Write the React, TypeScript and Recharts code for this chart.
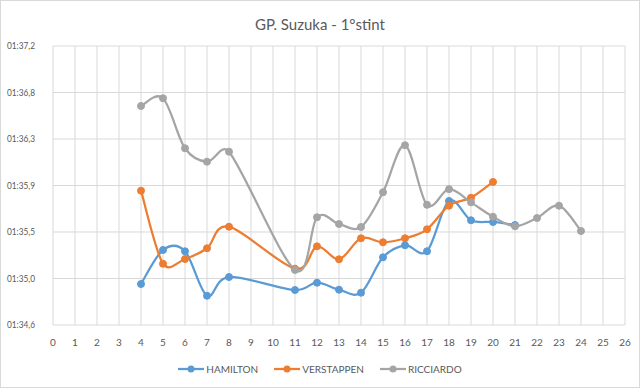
import React from "react";
import { LineChart, Line, XAxis, YAxis, CartesianGrid } from "recharts";

// Lap numbers and lap times (seconds) per driver
const hamiltonLaps = [4, 5, 6, 7, 8, 11, 12, 13, 14, 15, 16, 17, 18, 19, 20, 21];
const hamiltonTimes = [94.982, 95.299, 95.287, 94.873, 95.047, 94.926, 94.994, 94.929, 94.901, 95.231, 95.343, 95.287, 95.756, 95.576, 95.560, 95.532];

const verstappenLaps = [4, 5, 6, 7, 8, 11, 12, 13, 14, 15, 16, 17, 18, 19, 20];
const verstappenTimes = [95.852, 95.171, 95.215, 95.315, 95.516, 95.125, 95.333, 95.212, 95.408, 95.371, 95.408, 95.492, 95.712, 95.786, 95.933];

const ricciardoLaps = [4, 5, 6, 7, 8, 11, 12, 13, 14, 15, 16, 17, 18, 19, 20, 21, 22, 23, 24];
const ricciardoTimes = [96.641, 96.713, 96.247, 96.122, 96.215, 95.113, 95.604, 95.541, 95.513, 95.837, 96.275, 95.720, 95.866, 95.743, 95.609, 95.520, 95.597, 95.712, 95.476];

const xTicks = [0, 1, 2, 3, 4, 5, 6, 7, 8, 9, 10, 11, 12, 13, 14, 15, 16, 17, 18, 19, 20, 21, 22, 23, 24, 25, 26];
const yTicks = [94.6, 95.03333, 95.46667, 95.9, 96.33333, 96.76667, 97.2];

const title = "GP. Suzuka - 1°stint";
const seriesNames = ["HAMILTON", "VERSTAPPEN", "RICCIARDO"];
const colors = ["#5B9BD5", "#ED7D31", "#A5A5A5"];

const toRows = (laps: number[], times: number[]) => laps.map((lap, i) => ({ lap, time: times[i] }));

const series = [
  toRows(hamiltonLaps, hamiltonTimes),
  toRows(verstappenLaps, verstappenTimes),
  toRows(ricciardoLaps, ricciardoTimes),
];

const fmtTime = (v: number) => {
  const m = Math.floor(v / 60);
  const s = v - m * 60;
  return `${String(m).padStart(2, "0")}:${s.toFixed(1).replace(".", ",")}`;
};

// Excel-like smoothing (Bezier with distance-limited control points)
const smoothCurve = (context: any) => {
  let pts: [number, number][] = [];
  const dist = (a: [number, number], b: [number, number]) => Math.hypot(a[0] - b[0], a[1] - b[1]);
  return {
    areaStart() {},
    areaEnd() {},
    lineStart() {
      pts = [];
    },
    point(x: number, y: number) {
      pts.push([+x, +y]);
    },
    lineEnd() {
      const n = pts.length;
      if (!n) return;
      context.moveTo(pts[0][0], pts[0][1]);
      for (let i = 0; i < n - 1; i++) {
        const p0 = pts[i - 1] || pts[i];
        const p1 = pts[i];
        const p2 = pts[i + 1];
        const p3 = pts[i + 2] || pts[i + 1];
        const d02 = dist(p0, p2);
        const d12 = dist(p1, p2);
        const d13 = dist(p1, p3);
        let f = 1 / 6;
        let g = 1 / 6;
        if (d02 / 6 >= d12 / 2 && d02 > 0) f = d12 / d02 / 2;
        if (d13 / 6 >= d12 / 2 && d13 > 0) g = d12 / d13 / 2;
        context.bezierCurveTo(
          p1[0] + f * (p2[0] - p0[0]),
          p1[1] + f * (p2[1] - p0[1]),
          p2[0] - g * (p3[0] - p1[0]),
          p2[1] - g * (p3[1] - p1[1]),
          p2[0],
          p2[1]
        );
      }
    },
  };
};

const FONT = "Lato, 'Open Sans', sans-serif";

const YTick = (props: any) => {
  const { x, y, payload } = props;
  return (
    <text
      x={x}
      y={y}
      dy="0.35em"
      textAnchor="end"
      fill="#595959"
      fontSize={9.5}
      fontFamily={FONT}
      textLength={28}
      lengthAdjust="spacingAndGlyphs"
    >
      {fmtTime(payload.value)}
    </text>
  );
};

export default function App() {
  return (
    <div style={{ position: "absolute", left: 0, top: 0, width: 640, height: 388, background: "#fff", fontFamily: FONT }}>
      <div
        style={{
          position: "absolute",
          top: 14,
          left: 0,
          width: 640,
          textAlign: "center",
          fontSize: 15,
          color: "#595959",
          lineHeight: "20px",
        }}
      >
        {title}
      </div>
      <LineChart width={640} height={388} margin={{ top: 46, right: 15, bottom: 0, left: 0 }}>
        <CartesianGrid stroke="#D9D9D9" strokeWidth={1} horizontal vertical />
        <XAxis
          type="number"
          dataKey="lap"
          domain={[0, 26]}
          ticks={xTicks}
          interval={0}
          height={63}
          axisLine={false}
          tickLine={false}
          tickMargin={8}
          tick={{ fill: "#595959", fontSize: 10, fontFamily: FONT }}
          allowDuplicatedCategory={false}
        />
        <YAxis
          type="number"
          dataKey="time"
          domain={[94.6, 97.2]}
          ticks={yTicks}
          interval={0}
          width={53}
          axisLine={false}
          tickLine={false}
          tickMargin={12}
          tick={<YTick />}
        />
        {series.map((d, i) => (
          <Line
            key={seriesNames[i]}
            data={d}
            dataKey="time"
            name={seriesNames[i]}
            type={smoothCurve as any}
            stroke={colors[i]}
            strokeWidth={2.25}
            dot={{ r: 3.5, fill: colors[i], stroke: colors[i], strokeWidth: 1 }}
            activeDot={false}
            isAnimationActive={false}
          />
        ))}
      </LineChart>
      <div
        style={{
          position: "absolute",
          top: 361,
          left: 0,
          width: 640,
          display: "flex",
          justifyContent: "center",
          gap: 16,
          fontSize: 10,
          color: "#595959",
          lineHeight: "16px",
        }}
      >
        {seriesNames.map((n, i) => (
          <div key={n} style={{ display: "flex", alignItems: "center" }}>
            <svg width={26} height={10} style={{ marginRight: 2 }}>
              <line x1={0} y1={5} x2={26} y2={5} stroke={colors[i]} strokeWidth={2.25} />
              <circle cx={13} cy={5} r={3.5} fill={colors[i]} />
            </svg>
            <span>{n}</span>
          </div>
        ))}
      </div>
      <div
        style={{
          position: "absolute",
          left: 0,
          top: 0,
          width: 640,
          height: 388,
          boxSizing: "border-box",
          border: "1px solid #D9D9D9",
          pointerEvents: "none",
        }}
      />
    </div>
  );
}
